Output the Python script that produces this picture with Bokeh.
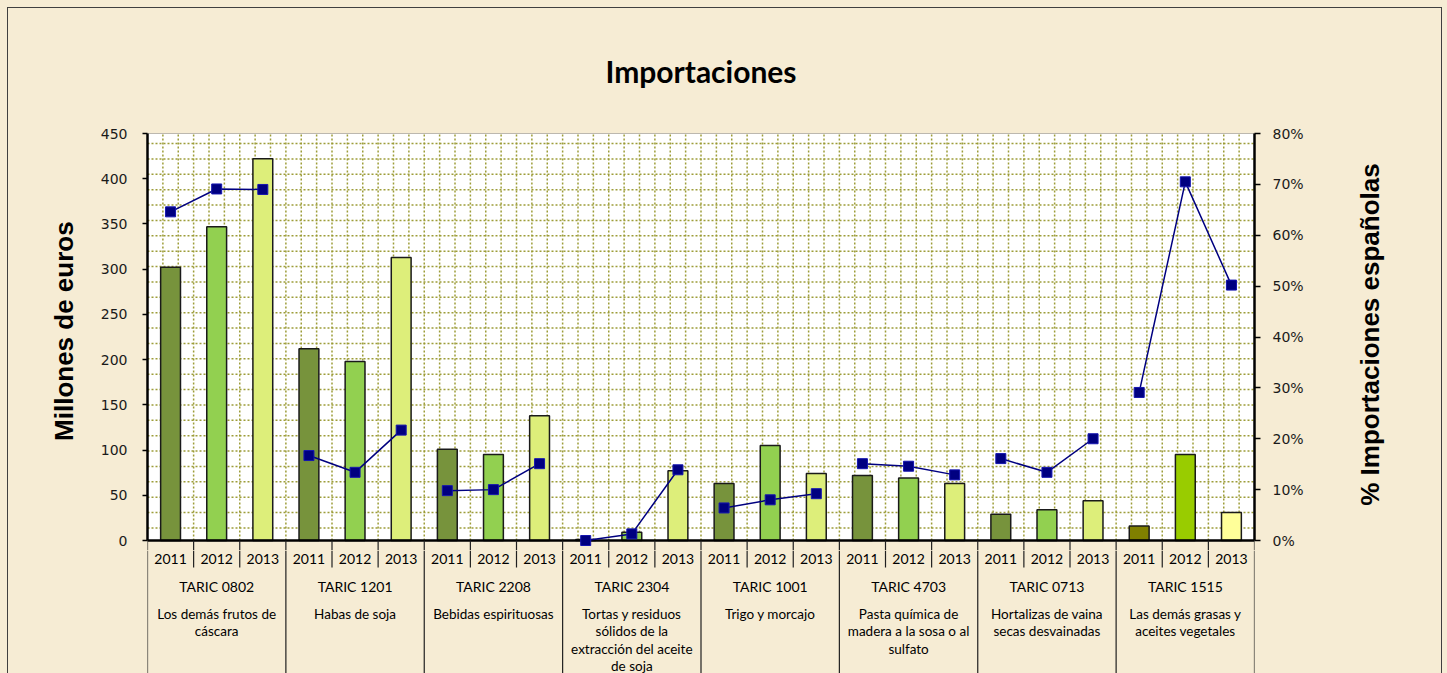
import numpy as np
from bokeh.plotting import figure
from bokeh.layouts import column, row
from bokeh.models import Range1d, LinearAxis, FixedTicker, PrintfTickFormatter
from bokeh.embed import file_html
from bokeh.resources import INLINE
from bokeh.core.properties import value

# ---------------- data ----------------
taric = ["TARIC 0802", "TARIC 1201", "TARIC 2208", "TARIC 2304",
         "TARIC 1001", "TARIC 4703", "TARIC 0713", "TARIC 1515"]
descr = ["Los demás frutos de\ncáscara",
         "Habas de soja",
         "Bebidas espirituosas",
         "Tortas y residuos\nsólidos de la\nextracción del aceite\nde soja",
         "Trigo y morcajo",
         "Pasta química de\nmadera a la sosa o al\nsulfato",
         "Hortalizas de vaina\nsecas desvainadas",
         "Las demás grasas y\naceites vegetales"]
years = ["2011", "2012", "2013"]

# Importaciones (millones de euros)
imp_2011 = [302, 212, 101, 1, 63, 72, 29, 16]
imp_2012 = [347, 198, 95, 9, 105, 69, 34, 95]
imp_2013 = [422, 313, 138, 77, 74, 63, 44, 31]

# % importaciones españolas
pct_2011 = [64.6, 16.7, 9.8, 0.0, 6.4, 15.1, 16.1, 29.1]
pct_2012 = [69.1, 13.4, 10.0, 1.3, 8.0, 14.6, 13.4, 70.5]
pct_2013 = [69.0, 21.7, 15.1, 13.9, 9.2, 12.9, 20.0, 50.2]

col_2011 = ["#77933C"] * 7 + ["#808000"]
col_2012 = ["#92D050"] * 7 + ["#99CC00"]
col_2013 = ["#DDEE7A"] * 7 + ["#FFFF99"]

y_ticks = list(range(0, 451, 50))
pct_ticks = list(range(0, 81, 10))

# ---------------- layout ----------------
BG = "#F6ECD4"
W, H = 1447, 673
LEFT, TOP = 147, 133
FRAME_R = 1254
TOP_H = 550            # top figure height (frame 133..550, zero line at 540)
SIDE_W = 133           # right-hand strip holding the right axis title
TOP_W = W - SIDE_W
zero_px = 540 - TOP
ppu = zero_px / 450.0
ystart = -(TOP_H - 540) / ppu
pct_start = ystart * 80.0 / 450.0
cat_px = (FRAME_R - LEFT) / 24.0

def px(v):
    return v / ppu

ng = len(taric)
ncat = ng * 3
xr = Range1d(0, ncat)

p = figure(width=TOP_W, height=TOP_H, x_range=xr, y_range=Range1d(ystart, 450),
           output_backend="svg", toolbar_location=None, x_axis_location=None,
           min_border_left=LEFT, min_border_right=TOP_W - FRAME_R, min_border_top=TOP,
           min_border_bottom=0, background_fill_color=BG, border_fill_color=BG,
           outline_line_color=None, title="Importaciones")
p.grid.visible = False

p.title.align = "center"
p.title.text_font = "Lato"
p.title.text_font_size = "30px"
p.title.text_font_style = "bold"
p.title.text_color = "black"
p.title.standoff = 89

# plot area
p.quad(left=0, right=ncat, bottom=0, top=450, fill_color="white", line_color="#808080", line_width=1)
grid_c = "#98982E"
gx = np.arange(1, ncat * 3) / 3.0
p.segment(x0=gx, y0=0, x1=gx, y1=450, line_color=grid_c, line_width=1.5, line_dash="2 2", line_alpha=0.95)
step = px(cat_px / 3.0)
gy = 450 - px(10) - step * np.arange(0, 26)
p.segment(x0=0, y0=gy, x1=ncat, y1=gy, line_color=grid_c, line_width=1.5, line_dash="2 2", line_alpha=0.95)

# bars
idx = np.arange(ng)
for k, (vals, cols) in enumerate([(imp_2011, col_2011), (imp_2012, col_2012), (imp_2013, col_2013)]):
    p.vbar(x=idx * 3 + k + 0.5, top=vals, bottom=0, width=0.43,
           fill_color=cols, line_color="#1a1a1a", line_width=1.5)

# x axis line at zero and start of the category table separators
p.segment(x0=0, y0=0, x1=ncat, y1=0, line_color="black", line_width=2.5)
gsep = np.arange(0, ncat + 1, 3)
ysep = np.array([g * 3 + j for g in range(ng) for j in (1, 2)])
p.segment(x0=gsep, y0=0, x1=gsep, y1=ystart, line_color="#202020", line_width=1.2)
p.segment(x0=ysep, y0=0, x1=ysep, y1=ystart, line_color="#202020", line_width=1.2)

# percentage line
p.extra_y_ranges = {"pct": Range1d(pct_start, 80)}
xs = [[g * 3 + 0.5, g * 3 + 1.5, g * 3 + 2.5] for g in range(ng)]
ys = [[pct_2011[g], pct_2012[g], pct_2013[g]] for g in range(ng)]
p.multi_line(xs=xs, ys=ys, y_range_name="pct", line_color="#000080", line_width=1.5)
p.scatter(x=[v for r in xs for v in r], y=[v for r in ys for v in r], y_range_name="pct",
          marker="square", size=10, fill_color="#000080", line_color="#1515B0", line_width=1)

# left axis
ya = p.yaxis[0]
ya.ticker = FixedTicker(ticks=y_ticks)
ya.bounds = (0, 450)
ya.axis_label = "\u00a0\u00a0\u00a0Millones de euros"
ya.axis_label_text_font = "Liberation Sans"
ya.axis_label_text_font_style = "bold"
ya.axis_label_text_font_size = "26px"
ya.axis_label_text_color = "black"
ya.axis_label_standoff = 19
ya.major_label_text_font = "DejaVu Sans"
ya.major_label_text_font_size = "14px"
ya.major_label_text_color = "#1a1a1a"
ya.major_label_standoff = 15
ya.axis_line_width = 2.5
ya.axis_line_color = "black"
ya.major_tick_line_width = 1.5
ya.major_tick_out = 5
ya.major_tick_in = 0
ya.minor_tick_line_color = None

# right axis
ra = LinearAxis(y_range_name="pct", ticker=FixedTicker(ticks=pct_ticks), bounds=(0, 80),
                formatter=PrintfTickFormatter(format="%d%%"))
ra.major_label_text_font = "DejaVu Sans"
ra.major_label_text_font_size = "14px"
ra.major_label_text_color = "#1a1a1a"
ra.major_label_standoff = 12
ra.axis_line_width = 2.5
ra.axis_line_color = "black"
ra.major_tick_line_width = 1.5
ra.major_tick_out = 6
ra.major_tick_in = 0
ra.minor_tick_line_color = None
p.add_layout(ra, "right")

# right-hand strip with the right axis title (frame spans pixels TOP..TOP_H)
side = figure(width=SIDE_W, height=TOP_H, x_range=Range1d(0, SIDE_W), y_range=Range1d(0, TOP_H - TOP),
              output_backend="svg", toolbar_location=None, x_axis_location=None, y_axis_location=None,
              min_border_left=0, min_border_right=0, min_border_top=TOP, min_border_bottom=0,
              background_fill_color=BG, border_fill_color=BG, outline_line_color=None)
side.grid.visible = False
side.text(x=[1369 - TOP_W], y=[TOP_H - 334], text=["% Importaciones españolas"], angle=np.pi / 2,
          text_align="center", text_baseline="middle", text_font=value("Liberation Sans"),
          text_font_style="bold", text_font_size="26px", text_color="black")

# category table below the plot (y in pixels below the top figure)
BOT_H = H - TOP_H
off = TOP_H - 540
b = figure(width=W, height=BOT_H, x_range=xr, y_range=Range1d(-BOT_H, 0),
           output_backend="svg", toolbar_location=None, x_axis_location=None, y_axis_location=None,
           min_border_left=LEFT, min_border_right=W - FRAME_R, min_border_top=0, min_border_bottom=0,
           background_fill_color=BG, border_fill_color=BG, outline_line_color=None)
b.grid.visible = False
b.segment(x0=gsep, y0=0, x1=gsep, y1=-BOT_H, line_color="#202020", line_width=1.2)
b.segment(x0=ysep, y0=0, x1=ysep, y1=-(27 - off), line_color="#202020", line_width=1.2)
b.text(x=np.arange(ncat) + 0.5, y=-(18 - off), text=years * ng, text_align="center",
       text_baseline="middle", text_font=value("Lato"), text_font_size="14px", text_color="black")
b.text(x=idx * 3 + 1.5, y=-(46 - off), text=taric, text_align="center",
       text_baseline="middle", text_font=value("Lato"), text_font_size="14px", text_color="black")
b.text(x=idx * 3 + 1.5, y=-(65 - off), text=descr, text_align="center", text_baseline="top",
       text_line_height=1.1, text_font=value("Lato"), text_font_size="13.5px", text_color="black")

layout = column(row(p, side, spacing=0), b, spacing=0)
layout.styles = {"position": "relative", "background-color": BG}
layout.stylesheets = [":host::after{content:'';position:absolute;left:7px;top:7px;width:1435px;"
                      "height:666px;border:1.5px solid #404040;border-bottom:none;"
                      "box-sizing:border-box;pointer-events:none;}"]

open("out.html", "w").write(file_html(layout, INLINE))
